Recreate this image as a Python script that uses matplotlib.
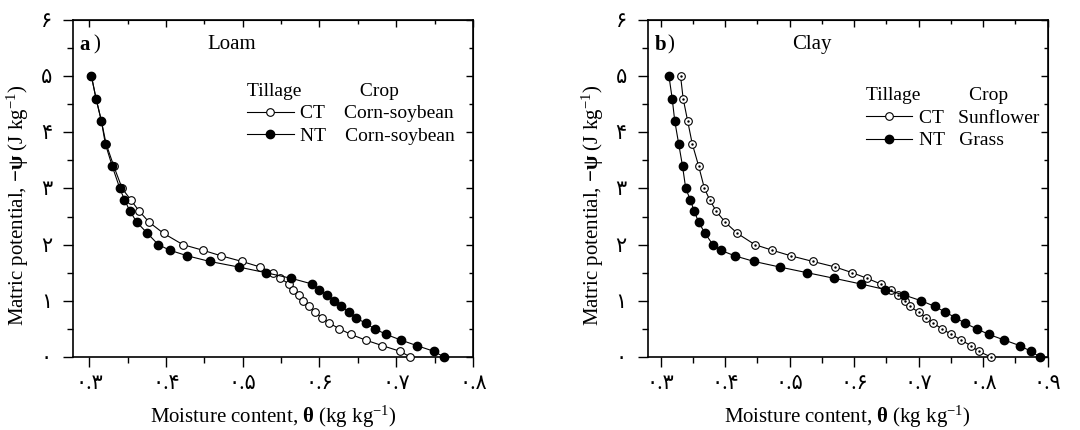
import numpy as np
import matplotlib
matplotlib.use("Agg")
import matplotlib.pyplot as plt
from matplotlib.ticker import MultipleLocator
from matplotlib.lines import Line2D

plt.rcParams['font.family'] = ['Liberation Serif', 'DejaVu Sans']
plt.rcParams['mathtext.fontset'] = 'custom'
plt.rcParams['mathtext.rm'] = 'Liberation Serif'
plt.rcParams['mathtext.it'] = 'Liberation Serif:italic'
plt.rcParams['mathtext.bf'] = 'Liberation Serif:bold'

# matric potential levels (J/kg), same for all curves
psi = [5.0, 4.6, 4.2, 3.8, 3.4, 3.0, 2.8, 2.6, 2.4, 2.2, 2.0, 1.9, 1.8, 1.7,
       1.6, 1.5, 1.4, 1.3, 1.2, 1.1, 1.0, 0.9, 0.8, 0.7, 0.6, 0.5, 0.4, 0.3,
       0.2, 0.1, 0.0]

# a) loam
loam_ct = [0.303, 0.309, 0.316, 0.322, 0.332, 0.343, 0.354, 0.365, 0.378,
           0.397, 0.422, 0.448, 0.472, 0.499, 0.523, 0.539, 0.549, 0.560,
           0.566, 0.573, 0.579, 0.586, 0.594, 0.603, 0.613, 0.626, 0.641,
           0.660, 0.682, 0.705, 0.718]
loam_nt = [0.303, 0.309, 0.316, 0.321, 0.330, 0.340, 0.346, 0.353, 0.362,
           0.376, 0.390, 0.405, 0.428, 0.457, 0.495, 0.530, 0.563, 0.590,
           0.600, 0.610, 0.619, 0.628, 0.638, 0.647, 0.660, 0.672, 0.687,
           0.706, 0.727, 0.749, 0.762]

# b) clay
clay_ct = [0.331, 0.335, 0.342, 0.349, 0.359, 0.368, 0.376, 0.386, 0.400,
           0.419, 0.446, 0.473, 0.502, 0.536, 0.571, 0.597, 0.620, 0.641,
           0.657, 0.668, 0.679, 0.686, 0.700, 0.711, 0.723, 0.736, 0.751,
           0.766, 0.781, 0.793, 0.812]
clay_nt = [0.313, 0.318, 0.322, 0.328, 0.334, 0.339, 0.346, 0.352, 0.359,
           0.369, 0.381, 0.393, 0.415, 0.445, 0.485, 0.527, 0.569, 0.610,
           0.648, 0.678, 0.704, 0.725, 0.741, 0.757, 0.772, 0.790, 0.809,
           0.833, 0.857, 0.874, 0.888]

yticks = [0, 1, 2, 3, 4, 5, 6]
ytick_labels = ['۰', '۱', '۲', '۳', '۴', '۵', '۶']
xticks_a = [0.3, 0.4, 0.5, 0.6, 0.7, 0.8]
xtick_labels_a = ['۰.۳', '۰.۴', '۰.۵', '۰.۶', '۰.۷', '۰.۸']
xticks_b = [0.3, 0.4, 0.5, 0.6, 0.7, 0.8, 0.9]
xtick_labels_b = ['۰.۳', '۰.۴', '۰.۵', '۰.۶', '۰.۷', '۰.۸', '۰.۹']

fig = plt.figure(figsize=(10.8, 4.3), dpi=100)
ax1 = fig.add_axes([0.0676, 0.170, 0.3704, 0.7835])
ax2 = fig.add_axes([0.5997, 0.170, 0.3703, 0.7835])


def setup(ax, xlim, xticks, xlabels, tag, soil, soil_x, title, labels,
          leg_x, leg_y):
    ax.set_xlim(*xlim)
    ax.set_ylim(0, 6)
    ax.set_xticks(xticks)
    ax.set_xticklabels(xlabels)
    ax.set_yticks(yticks)
    ax.set_yticklabels(ytick_labels)
    ax.xaxis.set_minor_locator(MultipleLocator(0.05))
    ax.yaxis.set_minor_locator(MultipleLocator(0.5))
    ax.tick_params(which='major', direction='out', length=7, width=1,
                   labelsize=15, pad=8)
    ax.tick_params(which='minor', direction='out', length=4, width=1)
    ax.tick_params(axis='x', pad=6)
    for s in ax.spines.values():
        s.set_linewidth(1.2)
    # mirrored ticks pointing inward on top and right
    top = ax.secondary_xaxis('top')
    top.set_xticks(xticks)
    top.set_xticklabels([])
    top.xaxis.set_minor_locator(MultipleLocator(0.05))
    top.tick_params(which='major', direction='in', length=5, width=1)
    top.tick_params(which='minor', direction='in', length=3, width=1)
    right = ax.secondary_yaxis('right')
    right.set_yticks(yticks)
    right.set_yticklabels([])
    right.yaxis.set_minor_locator(MultipleLocator(0.5))
    right.tick_params(which='major', direction='in', length=5, width=1)
    right.tick_params(which='minor', direction='in', length=3, width=1)

    ax.set_xlabel(r'Moisture content, $\mathbf{\theta}$ (kg kg$^{-1}$)',
                  fontsize=15, labelpad=7)
    ax.set_ylabel(r'Matric potential, $\mathbf{-\psi}$ (J kg$^{-1}$)',
                  fontsize=15)
    ax.yaxis.set_label_coords(-0.105, 0.45)
    ax.text(0.017, 0.955, tag, transform=ax.transAxes, fontsize=15,
            fontweight='bold', va='top')
    ax.text(0.05, 0.955, ')', transform=ax.transAxes, fontsize=15, va='top')
    ax.text(soil_x, 0.955, soil, transform=ax.transAxes, fontsize=15,
            va='top')

    h_ct = Line2D([], [], color='black', lw=0.8, marker='o', ms=5.5,
                  mfc='white', mec='black', mew=0.8)
    h_nt = Line2D([], [], color='black', lw=0.8, marker='o', ms=6,
                  mfc='black', mec='black')
    ax.legend([h_ct, h_nt], labels, title=title, frameon=False,
              fontsize=14, title_fontsize=14, loc='upper left',
              bbox_to_anchor=(leg_x, leg_y), handlelength=2.4,
              handletextpad=0.35, labelspacing=0.25, borderaxespad=0,
              borderpad=0, alignment='left')


setup(ax1, (0.279, 0.8), xticks_a, xtick_labels_a, 'a', 'Loam', 0.335,
      'Tillage            Crop',
      ['CT    Corn-soybean', 'NT    Corn-soybean'], 0.435, 0.813)
setup(ax2, (0.28, 0.9), xticks_b, xtick_labels_b, 'b', 'Clay', 0.362,
      'Tillage          Crop',
      ['CT   Sunflower', 'NT   Grass'], 0.545, 0.80)

ax1.plot(loam_ct, psi, color='black', lw=0.8, marker='o', ms=5.5,
         mfc='white', mec='black', mew=0.8, clip_on=False, zorder=3)
ax1.plot(loam_nt, psi, color='black', lw=0.8, marker='o', ms=6,
         mfc='black', mec='black', clip_on=False, zorder=4)

ax2.plot(clay_ct, psi, color='black', lw=0.8, marker='o', ms=5.5,
         mfc='white', mec='black', mew=0.8, clip_on=False, zorder=3)
ax2.plot(clay_ct, psi, ls='none', marker='.', ms=1.5, color='black',
         clip_on=False, zorder=3)
ax2.plot(clay_nt, psi, color='black', lw=0.8, marker='o', ms=6,
         mfc='black', mec='black', clip_on=False, zorder=4)

fig.savefig('out.png', dpi=100)
